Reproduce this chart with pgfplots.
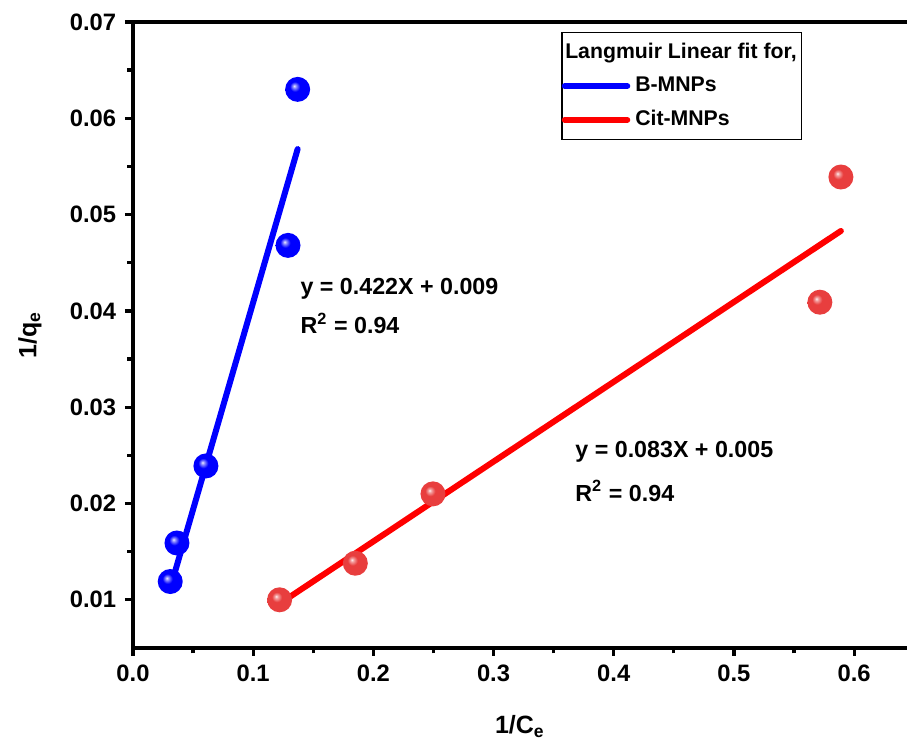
\documentclass[border=0pt]{standalone}
\usepackage{pgfplots}
\pgfplotsset{compat=1.18}
\usepackage{fontspec}
\setmainfont{Liberation Sans}
\definecolor{ored}{RGB}{232,62,62}
\pgfdeclareradialshading{blueball}{\pgfpoint{-7bp}{7bp}}{color(0bp)=(white!92!blue); color(3.5bp)=(white!55!blue); color(10bp)=(blue); color(50bp)=(blue)}
\pgfdeclareradialshading{redball}{\pgfpoint{-7bp}{7bp}}{color(0bp)=(white!92!ored); color(3.5bp)=(white!50!ored); color(10bp)=(ored); color(50bp)=(ored)}
\pgfdeclareplotmark{bball}{\pgfpathcircle{\pgfpointorigin}{\pgfplotmarksize}\pgfshadepath{blueball}{0}\pgfusepath{}}
\pgfdeclareplotmark{rball}{\pgfpathcircle{\pgfpointorigin}{\pgfplotmarksize}\pgfshadepath{redball}{0}\pgfusepath{}}
\begin{document}
\begin{tikzpicture}
\begin{axis}[
  scale only axis, width=309.6pt, height=250.4pt,
  xmin=0, xmax=0.644, ymin=0.005, ymax=0.07,
  axis x line=box, axis y line*=left,
  axis line style={line width=1.3pt},
  every tick/.style={line width=1.3pt, black},
  major tick length=3.2pt, minor tick length=2.2pt,
  tick align=outside,
  xtick pos=bottom, ytick pos=left,
  xtick={0,0.1,0.2,0.3,0.4,0.5,0.6},
  ytick={0.01,0.02,0.03,0.04,0.05,0.06,0.07},
  minor x tick num=1, minor y tick num=1,
  scaled x ticks=false, scaled y ticks=false,
  /pgf/number format/assume math mode=true,
  xticklabel style={/pgf/number format/.cd, fixed, fixed zerofill, precision=1},
  yticklabel style={/pgf/number format/.cd, fixed, fixed zerofill, precision=2},
  ticklabel style={font=\fontsize{9.5}{11}\selectfont\bfseries},
  xlabel={1/C\textsubscript{e}}, ylabel={1/q\textsubscript{e}},
  label style={font=\fontsize{10}{12}\selectfont\bfseries},
  xlabel style={at={(axis description cs:0.5,-0.125)}, anchor=center},
  ylabel style={at={(axis description cs:-0.133,0.5)}, anchor=center},
  legend cell align=left,
  legend image code/.code={\draw[#1] (0pt,0pt) -- (25pt,0pt);},
  legend style={at={(axis description cs:0.553,0.984)}, anchor=north west,
    draw=black, line width=0.6pt, font=\fontsize{8.5}{10}\selectfont\bfseries,
    inner xsep=0pt, inner ysep=2pt, row sep=2pt},
]
\addlegendimage{empty legend}
\addlegendentry{\hspace*{-28pt}Langmuir Linear fit for,}
% data points
\addplot[forget plot, only marks, mark=bball, mark size=5pt]
  coordinates {(0.031,0.0119) (0.0366,0.0159) (0.0607,0.0239) (0.129,0.0468) (0.137,0.0630)};
\addplot[forget plot, only marks, mark=rball, mark size=5pt]
  coordinates {(0.122,0.0100) (0.185,0.0138) (0.2496,0.0210) (0.5715,0.0409) (0.589,0.0539)};
% fit lines
\addplot[blue, line width=2.4pt, line cap=round] coordinates {(0.031,0.0112) (0.137,0.0568)};
\addlegendentry{B-MNPs}
\addplot[red, line width=2.4pt, line cap=round] coordinates {(0.122,0.0096) (0.589,0.0483)};
\addlegendentry{Cit-MNPs}
\node[anchor=west, inner sep=0pt, font=\fontsize{9.3}{11}\selectfont\bfseries] at (axis cs:0.139,0.0423) {y = 0.422X + 0.009};
\node[anchor=west, inner sep=0pt, font=\fontsize{9.3}{11}\selectfont\bfseries] at (axis cs:0.139,0.0387) {R\textsuperscript{2} = 0.94};
\node[anchor=west, inner sep=0pt, font=\fontsize{9.3}{11}\selectfont\bfseries] at (axis cs:0.3677,0.0254) {y = 0.083X + 0.005};
\node[anchor=west, inner sep=0pt, font=\fontsize{9.3}{11}\selectfont\bfseries] at (axis cs:0.3677,0.0213) {R\textsuperscript{2} = 0.94};
\coordinate (bbl) at (axis description cs:-0.1718,-0.1565);
\coordinate (btr) at (axis description cs:1,1.0351);
\end{axis}
\pgfresetboundingbox
\path (bbl) rectangle (btr);
\end{tikzpicture}
\end{document}
